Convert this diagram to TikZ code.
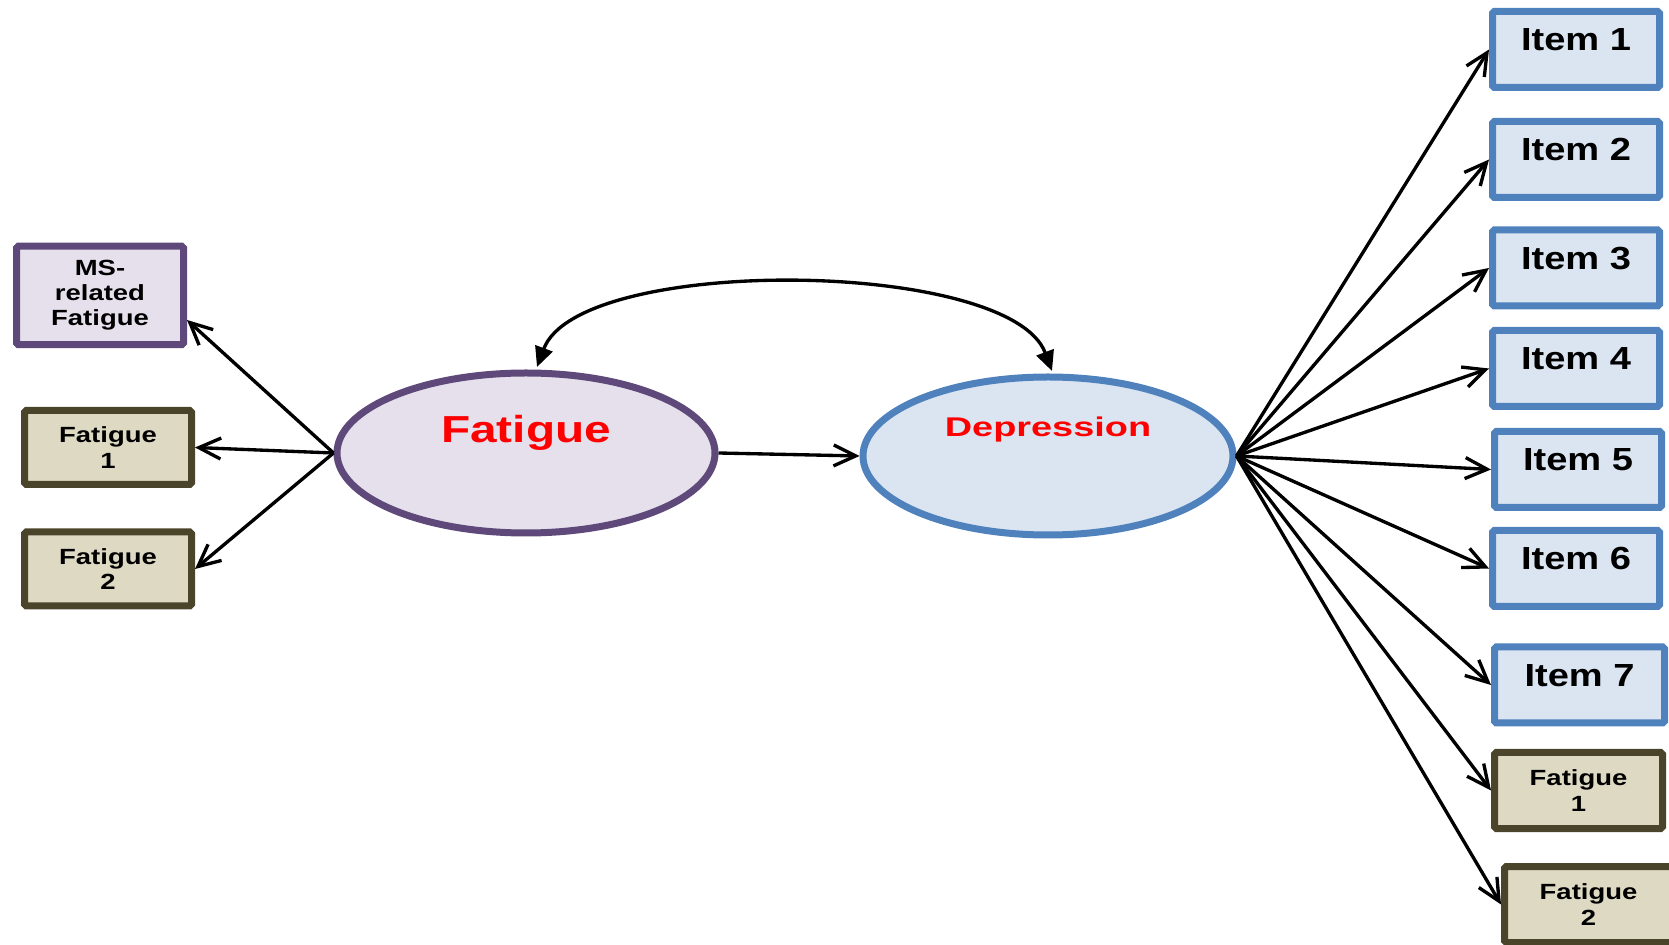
\documentclass[tikz,border=0pt]{standalone}
\usepackage{fontspec}
\usetikzlibrary{shapes.geometric,arrows.meta}

\newfontfamily\itemfont{Liberation Sans}[FakeStretch=1.19]
\newfontfamily\boxfont{Liberation Sans}[FakeStretch=1.25]
\newfontfamily\fatfont{Liberation Sans}[FakeStretch=1.27]
\newfontfamily\depfont{Liberation Sans}[FakeStretch=1.4]

\definecolor{purpleline}{HTML}{5F497A}
\definecolor{purplefill}{HTML}{E5E0EC}
\definecolor{blueline}{HTML}{4F81BD}
\definecolor{bluefill}{HTML}{DBE5F1}
\definecolor{oliveline}{HTML}{4A452A}
\definecolor{olivefill}{HTML}{DDD9C3}

\tikzset{
	itembox/.style={draw=blueline, fill=bluefill, line width=0.14cm, rounded corners=1pt,
		minimum width=3.34cm, minimum height=1.52cm, inner sep=0,
		font=\itemfont\bfseries\fontsize{18.2pt}{20pt}\selectfont,
		text height=0.5cm, text depth=0.44cm},
	fatbox/.style={draw=oliveline, fill=olivefill, line width=0.14cm, rounded corners=1pt,
		minimum width=3.34cm, minimum height=1.48cm, inner sep=0, align=center,
		font=\boxfont\bfseries\fontsize{12.5pt}{14.3pt}\selectfont},
	msbox/.style={fatbox, draw=purpleline, fill=purplefill, minimum height=1.97cm},
	latent/.style={ellipse, line width=0.14cm, inner sep=0, text=red},
	load/.style={-{Straight Barb[length=0.44cm,width=0.42cm]}, line width=1.9pt},
	corr/.style={{Triangle[length=0.4cm,width=0.36cm]}-{Triangle[length=0.4cm,width=0.36cm]}, line width=1.9pt}
}

\begin{document}
\begin{tikzpicture}
	\useasboundingbox (0, 0) rectangle (33.38, 18.88);
	% latent variables
	\node[latent, draw=purpleline, fill=purplefill, minimum width=7.56cm, minimum height=3.2cm,
		font=\fatfont\bfseries\fontsize{21.4pt}{24pt}\selectfont,
		text height=0.6cm, text depth=1.02cm] (fat) at (10.52, 9.82) {Fatigue};
	\node[latent, draw=blueline, fill=bluefill, minimum width=7.4cm, minimum height=3.16cm,
		font=\depfont\bfseries\fontsize{15.4pt}{17pt}\selectfont,
		text height=0.45cm, text depth=1.24cm] (dep) at (20.96, 9.76) {Depression};
	% left indicators
	\node[msbox](ms) at (2.0, 12.97){MS-\\related\\Fatigue};
	\node[fatbox](lf1) at (2.16, 9.93){Fatigue\\1};
	\node[fatbox](lf2) at (2.16, 7.5){Fatigue\\2};
	% right indicators
	\node[itembox](i1) at (31.52, 17.89){Item 1};
	\node[itembox](i2) at (31.52, 15.69){Item 2};
	\node[itembox](i3) at (31.52, 13.52){Item 3};
	\node[itembox](i4) at (31.52, 11.51){Item 4};
	\node[itembox](i5) at (31.56, 9.49){Item 5};
	\node[itembox](i6) at (31.52, 7.51){Item 6};
	\node[itembox, minimum width=3.4cm](i7) at (31.59, 5.18){Item 7};
	\node[fatbox, minimum width=3.36cm, minimum height=1.52cm](rf1) at (31.57, 3.07){Fatigue\\1};
	\node[fatbox, minimum width=3.36cm, minimum height=1.52cm](rf2) at (31.77, 0.79){Fatigue\\2};
	% paths
	\draw[load] (fat.west) -- ([yshift=-0.49cm]ms.east);
	\draw[load] (fat.west) -- (lf1.east);
	\draw[load] (fat.west) -- (lf2.east);
	\draw[load] (fat.east) -- (dep.west);
	\draw[corr] ([xshift=0.22cm, yshift=0.05cm]fat.north) .. controls +(0.84, 2.25) and +(-0.84, 2.25) .. ([xshift=0.08cm, yshift=0.05cm]dep.north);
	\draw[load] (dep.east) -- (i1.west);
	\draw[load] (dep.east) -- (i2.west);
	\draw[load] (dep.east) -- (i3.west);
	\draw[load] (dep.east) -- (i4.west);
	\draw[load] (dep.east) -- (i5.west);
	\draw[load] (dep.east) -- (i6.west);
	\draw[load] (dep.east) -- (i7.west);
	\draw[load] (dep.east) -- (rf1.west);
	\draw[load] (dep.east) -- (rf2.west);
\end{tikzpicture}
\end{document}
